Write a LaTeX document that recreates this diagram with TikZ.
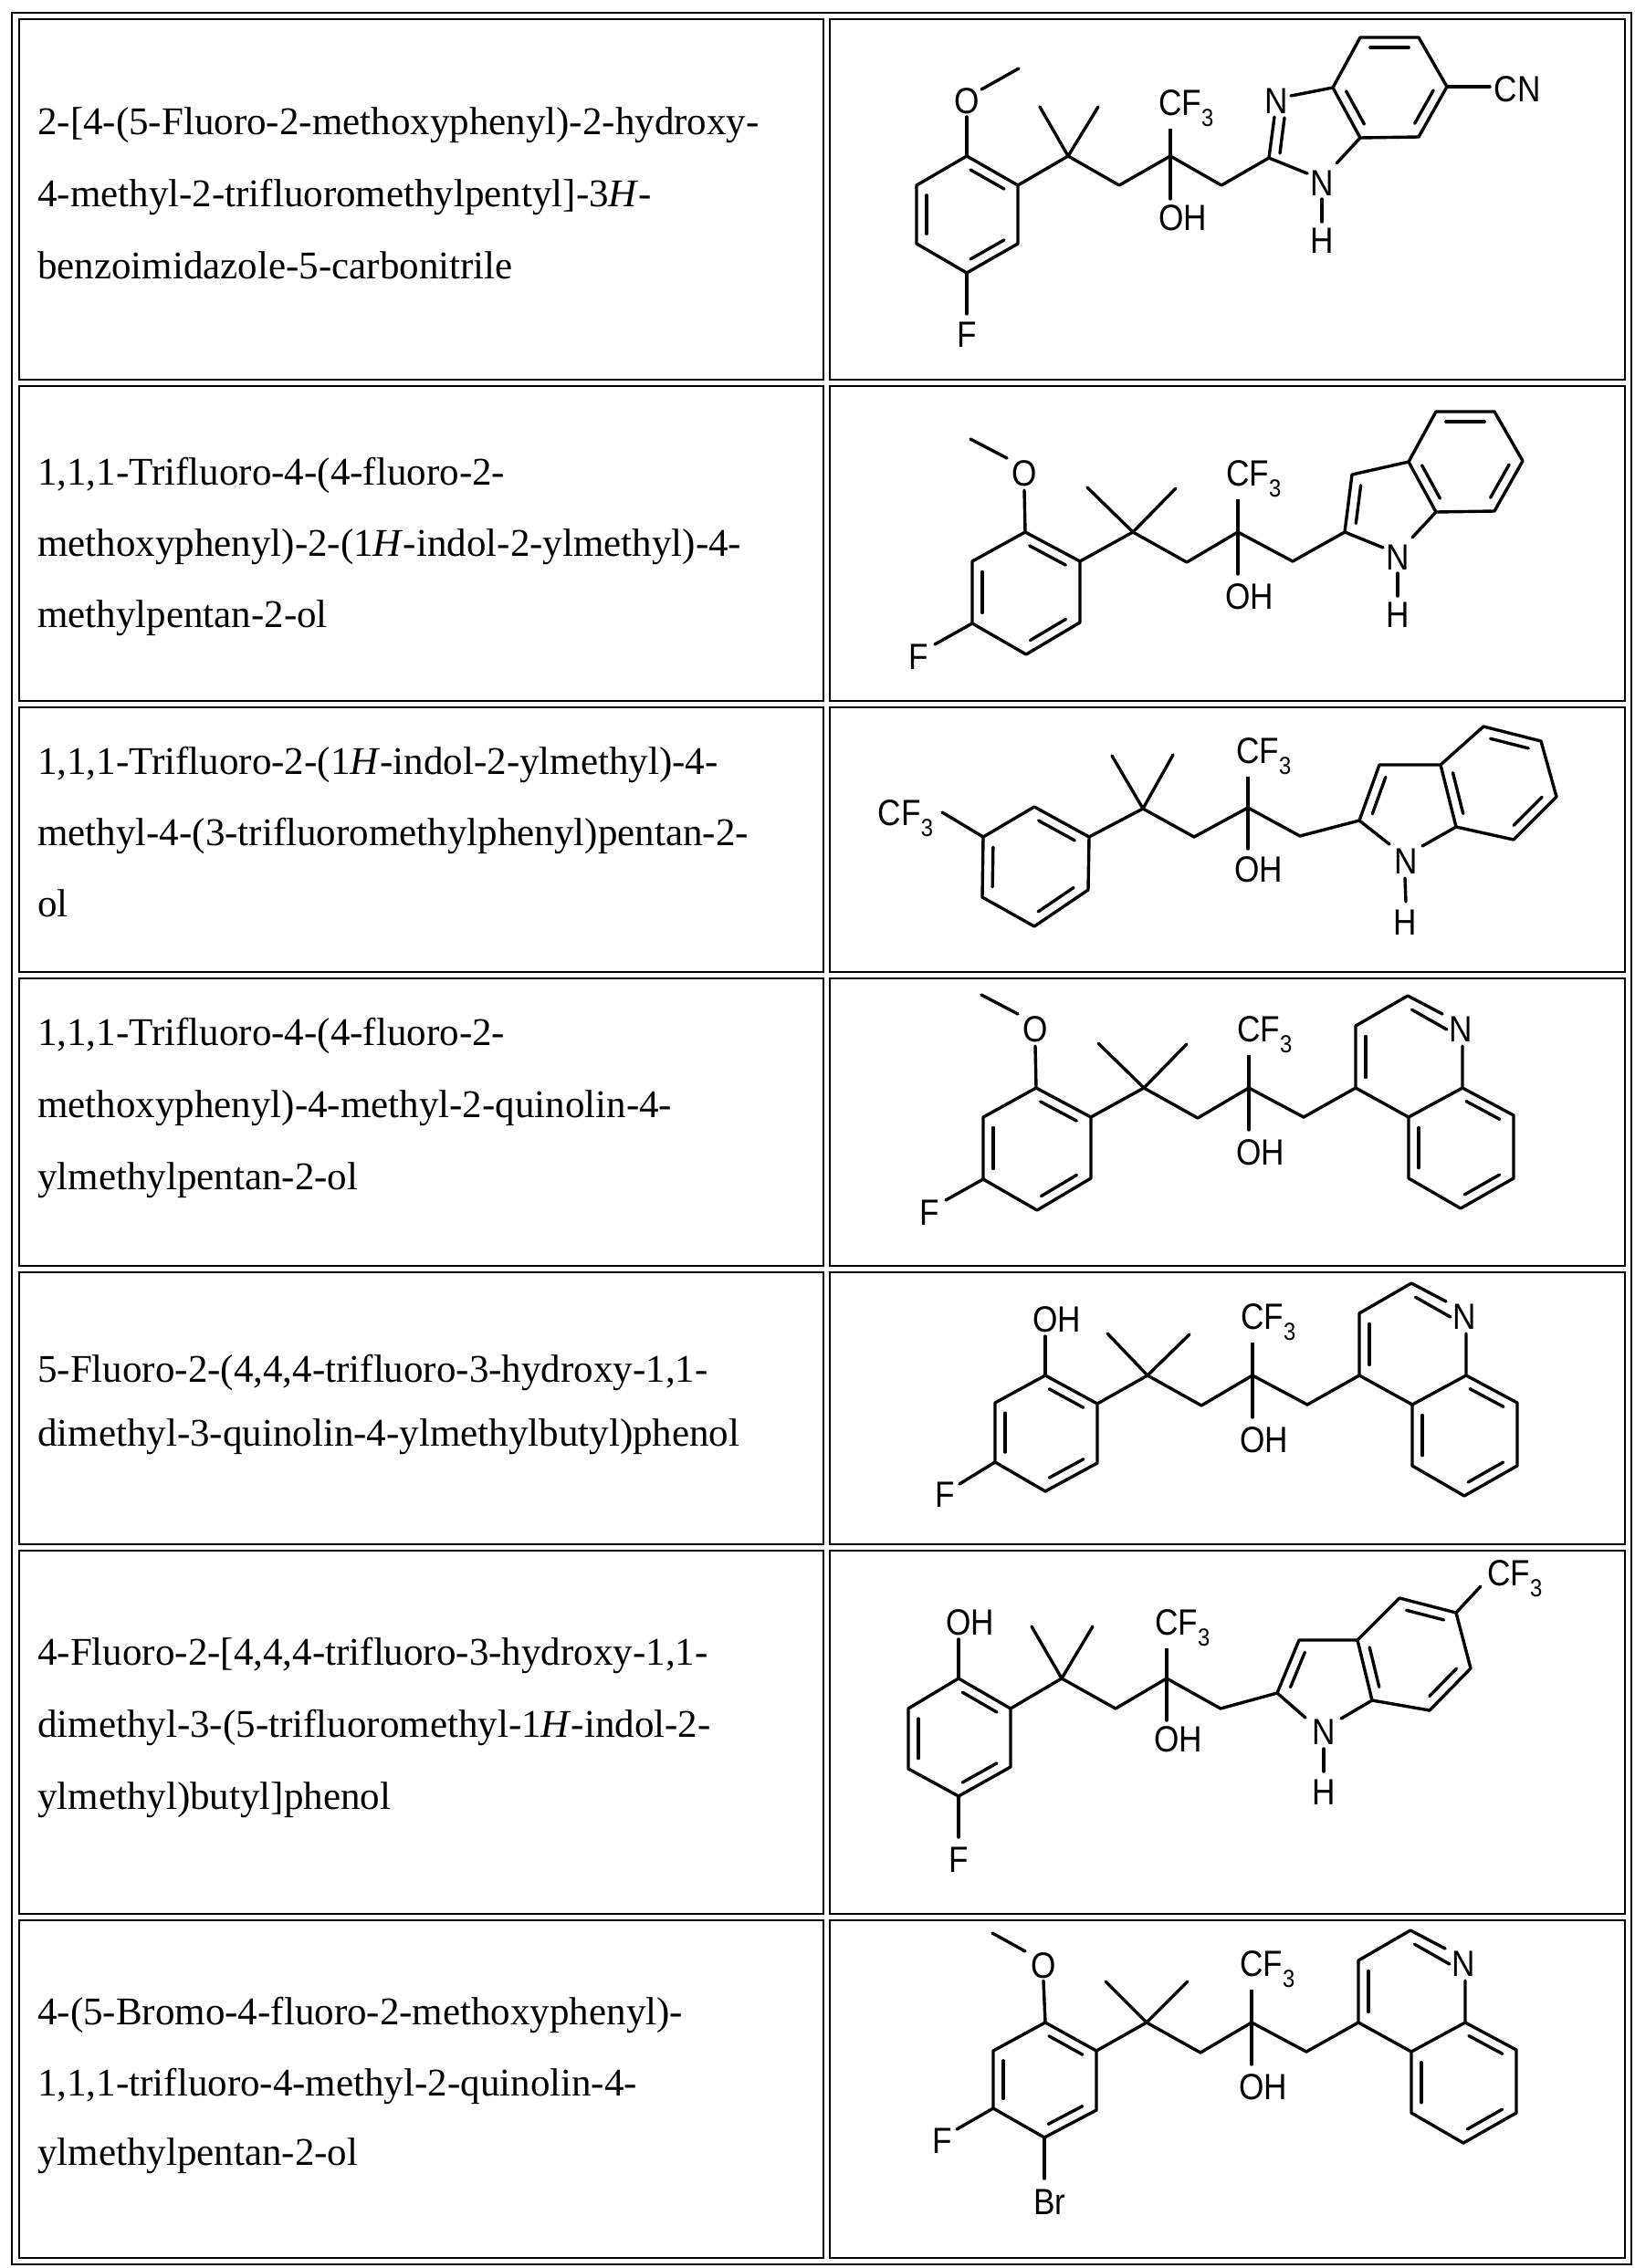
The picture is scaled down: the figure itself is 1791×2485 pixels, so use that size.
\documentclass[tikz,border=0pt]{standalone}
\usepackage{fontspec}
\setmainfont{Liberation Serif}
\newfontfamily\chemfont[FakeStretch=0.88]{Liberation Sans}
\usetikzlibrary{calc}
\tikzset{
  bond/.style={line width=3.4pt, line cap=round, line join=round},
  lab/.style={font=\chemfont\fontsize{40}{40}\selectfont, inner sep=1.5pt, fill=white, anchor=base},
  name/.style={font=\fontsize{43}{43}\selectfont, inner sep=0pt, anchor=base west},
  cell/.style={line width=2pt},
}
\newcommand\sub[1]{\raisebox{-0.32em}{\fontsize{27}{27}\selectfont #1}}
\newcommand\lab[3]{\node[lab] at (#1,#2+14) {#3};}
\newcommand\dbl[3]{\draw[bond] let \p1=($(#1)!0.5!(#2)$), \p2=($(\p1)!11pt!(#3)$) in
  ($(#1)!0.17!(#2)+(\x2-\x1,\y2-\y1)$) -- ($(#2)!0.17!(#1)+(\x2-\x1,\y2-\y1)$);}
\newcommand\phen[7]{\draw[bond] (#1)--(#2)--(#3)--(#4)--(#5)--(#6)--cycle;
  \dbl{#1}{#2}{#7}\dbl{#3}{#4}{#7}\dbl{#5}{#6}{#7}}
% row-4 coordinates
\newcommand\chainQ{%
  \draw[bond] (1253,1192)--(1312,1225)--(1368,1192)--(1428,1224)--(1485,1192);
  \draw[bond] (1368,1145)--(1368,1238);
  \lab{1368}{1127}{C\rlap{F\sub3}}\lab{1368}{1262}{O\rlap{H}}}
\newcommand\quin{%
  \draw[bond] (1485,1192)--(1485,1124)--(1542,1091)--(1580,1111);
  \draw[bond] (1602,1146)--(1602,1192)--(1543,1224)--(1485,1192);
  \lab{1600}{1127}{N}
  \draw[bond] (1602,1192)--(1658,1222)--(1658,1291)--(1600,1324)--(1543,1291)--(1543,1224);
  \dbl{1485,1192}{1485,1124}{1543,1158}\dbl{1542,1091}{1600,1124}{1543,1158}
  \dbl{1602,1192}{1658,1222}{1600,1258}\dbl{1658,1291}{1600,1324}{1600,1258}
  \dbl{1543,1291}{1543,1224}{1600,1258}}
\newcommand\leftMeOF{%
  \phen{1135,1192}{1195,1224}{1195,1291}{1136,1326}{1077,1292}{1077,1224}{1136,1258}
  \draw[bond] (1135,1192)--(1134,1146);
  \draw[bond] (1115,1111)--(1075,1090);
  \lab{1134}{1127}{O}
  \draw[bond] (1077,1292)--(1036,1315);
  \lab{1018}{1328}{F}
  \draw[bond] (1195,1224)--(1253,1192);
  \draw[bond] (1203,1143)--(1253,1192)--(1300,1144);}
% fused bicycle, local origin at C2
\newcommand\benzo{%
  \draw[bond] (70,-77)--(100,-132)--(164,-132)--(195,-78)--(164,-23)--(100,-22)--cycle;
  \dbl{100,-132}{164,-132}{132,-77}\dbl{70,-77}{100,-22}{132,-77}\dbl{195,-78}{164,-23}{132,-77}
  \draw[bond] (100,-22)--(74,6);
  \draw[bond] (42,17)--(0,0);
  \draw[bond] (58,45)--(58,70);
  \lab{58}{27}{N}\lab{58}{90}{H}}
\begin{document}
\begin{tikzpicture}[x=1pt,y=-1pt]
\useasboundingbox (0,0) rectangle (1791,2485);
\fill[white] (0,0) rectangle (1791,2485);
% ---------- table ----------
\draw[line width=2.6pt] (13,14) rectangle (1787,2481);
\foreach \a/\b in {21/416, 423/768, 775/1065, 1072/1387, 1394/1692, 1699/2097, 2104/2474}{
  \draw[cell] (21,\a) rectangle (902,\b);
  \draw[cell] (909,\a) rectangle (1780,\b);
}
% ---------- names ----------
\node[name] at (41,147) {2-[4-(5-Fluoro-2-methoxyphenyl)-2-hydroxy-};
\node[name] at (41,226) {4-methyl-2-trifluoromethylpentyl]-3\textit{H}-};
\node[name] at (41,305) {benzoimidazole-5-carbonitrile};
\node[name] at (41,531) {1,1,1-Trifluoro-4-(4-fluoro-2-};
\node[name] at (41,609) {methoxyphenyl)-2-(1\textit{H}-indol-2-ylmethyl)-4-};
\node[name] at (41,687) {methylpentan-2-ol};
\node[name] at (41,848) {1,1,1-Trifluoro-2-(1\textit{H}-indol-2-ylmethyl)-4-};
\node[name] at (41,926) {methyl-4-(3-trifluoromethylphenyl)pentan-2-};
\node[name] at (41,1004) {ol};
\node[name] at (41,1145) {1,1,1-Trifluoro-4-(4-fluoro-2-};
\node[name] at (41,1224) {methoxyphenyl)-4-methyl-2-quinolin-4-};
\node[name] at (41,1303) {ylmethylpentan-2-ol};
\node[name] at (41,1514) {5-Fluoro-2-(4,4,4-trifluoro-3-hydroxy-1,1-};
\node[name] at (41,1584) {dimethyl-3-quinolin-4-ylmethylbutyl)phenol};
\node[name] at (41,1824) {4-Fluoro-2-[4,4,4-trifluoro-3-hydroxy-1,1-};
\node[name] at (41,1903) {dimethyl-3-(5-trifluoromethyl-1\textit{H}-indol-2-};
\node[name] at (41,1982) {ylmethyl)butyl]phenol};
\node[name] at (41,2218) {4-(5-Bromo-4-fluoro-2-methoxyphenyl)-};
\node[name] at (41,2296) {1,1,1-trifluoro-4-methyl-2-quinolin-4-};
\node[name] at (41,2372) {ylmethylpentan-2-ol};
% ---------- row 1 ----------
\phen{1059,171}{1115,203}{1115,267}{1059,299}{1004,267}{1004,203}{1059.5,235}
\draw[bond] (1059,171)--(1059,128);
\draw[bond] (1075,98)--(1116,75);
\lab{1059}{110}{O}
\draw[bond] (1059,299)--(1059,344);
\lab{1059}{366}{F}
\draw[bond] (1115,203)--(1170,171)--(1226,203)--(1282,171)--(1338,203)--(1390,173);
\draw[bond] (1139,117)--(1170,171)--(1203,117);
\draw[bond] (1282,130)--(1282,218);
\lab{1282}{112}{C\rlap{F\sub3}}\lab{1283}{238}{O\rlap{H}}
\begin{scope}[shift={(1390,173)}]
  \draw[bond] (0,0)--(6,-45);
  \draw[bond] (12,-5)--(17,-44);
  \draw[bond] (24,-68)--(70,-77);
  \draw[bond] (195,-78)--(242,-78);
  \benzo
  \lab{8}{-63}{N}
  \node[lab] at (272,-76+14) {CN};
\end{scope}
% ---------- row 2 ----------
\begin{scope}[shift={(-12,-609)}]
  \leftMeOF
  \chainQ
\end{scope}
\begin{scope}[shift={(1473,583)}]
  \draw[bond] (0,0)--(8,-63)--(70,-77);
  \dbl{0,0}{8,-63}{47,-27}
  \benzo
\end{scope}
% ---------- row 3 ----------
\phen{1133,884}{1193,917}{1192,975}{1133,1015}{1076,983}{1077,917}{1134,950}
\draw[bond] (1077,917)--(1032,890);
\node[lab] at (992,890+14) {CF\sub3};
\draw[bond] (1193,917)--(1252,886)--(1308,917)--(1367,885)--(1424,916)--(1489,899);
\draw[bond] (1218,828)--(1252,886)--(1285,827);
\draw[bond] (1367,838)--(1367,930);
\lab{1367}{822}{C\rlap{F\sub3}}\lab{1366}{952}{O\rlap{H}}
\draw[bond] (1522,925)--(1489,899)--(1511,838)--(1578,838)--(1595,906)--(1558,927);
\dbl{1489,899}{1511,838}{1545,882}
\draw[bond] (1539,962)--(1540,988);
\lab{1540}{943}{N}
\lab{1539}{1010}{H}
\draw[bond] (1578,838)--(1625,796)--(1688,812)--(1705,873)--(1658,920)--(1595,906);
\dbl{1625,796}{1688,812}{1641,857}\dbl{1578,838}{1595,906}{1641,857}\dbl{1705,873}{1658,920}{1641,857}
% ---------- row 4 ----------
\leftMeOF
\chainQ
\quin
% ---------- row 5 ----------
\phen{1145,1507}{1202,1538}{1202,1603}{1145,1634}{1090,1602}{1090,1537}{1146,1570}
\draw[bond] (1145,1507)--(1145,1464);
\lab{1145}{1445}{O\rlap{H}}
\draw[bond] (1090,1602)--(1051,1626);
\lab{1035}{1637}{F}
\draw[bond] (1202,1538)--(1257,1507);
\draw[bond] (1213,1461)--(1257,1507)--(1303,1462);
\begin{scope}[shift={(4,315)}]
  \chainQ
  \quin
\end{scope}
% ---------- row 6 ----------
\phen{1050,1839}{1107,1872}{1107,1936}{1050,1968}{995,1938}{995,1872}{1051,1904}
\draw[bond] (1050,1839)--(1050,1796);
\lab{1050}{1777}{O\rlap{H}}
\draw[bond] (1050,1968)--(1050,2013);
\lab{1050}{2037}{F}
\draw[bond] (1107,1872)--(1163,1839)--(1222,1872)--(1278,1839)--(1337,1872)--(1399,1855);
\draw[bond] (1130,1782)--(1163,1839)--(1197,1782);
\draw[bond] (1278,1796)--(1278,1885);
\lab{1278}{1777}{C\rlap{F\sub3}}\lab{1278}{1905}{O\rlap{H}}
\draw[bond] (1430,1882)--(1399,1855)--(1423,1797)--(1487,1797)--(1503,1863)--(1469,1883);
\dbl{1399,1855}{1423,1797}{1453,1840}
\draw[bond] (1450,1916)--(1450,1941);
\lab{1450}{1897}{N}
\lab{1450}{1963}{H}
\draw[bond] (1487,1797)--(1533,1751)--(1595,1767)--(1611,1828)--(1566,1874)--(1503,1863);
\dbl{1533,1751}{1595,1767}{1549,1813}\dbl{1487,1797}{1503,1863}{1549,1813}\dbl{1611,1828}{1566,1874}{1549,1813}
\draw[bond] (1595,1767)--(1622,1738);
\lab{1642}{1723}{C\rlap{F\sub3}}
% ---------- row 7 ----------
\phen{1145,2216}{1201,2247}{1201,2312}{1144,2342}{1088,2310}{1088,2247}{1145,2279}
\draw[bond] (1145,2216)--(1143,2170);
\draw[bond] (1123,2138)--(1087,2118);
\lab{1143}{2153}{O}
\draw[bond] (1088,2310)--(1048,2333);
\lab{1032}{2345}{F}
\draw[bond] (1144,2342)--(1144,2387);
\node[lab] at (1150,2412+14) {Br};
\draw[bond] (1201,2247)--(1256,2216);
\draw[bond] (1211,2171)--(1256,2216)--(1301,2171);
\begin{scope}[shift={(3,1024)}]
  \chainQ
  \quin
\end{scope}
\end{tikzpicture}
\end{document}
